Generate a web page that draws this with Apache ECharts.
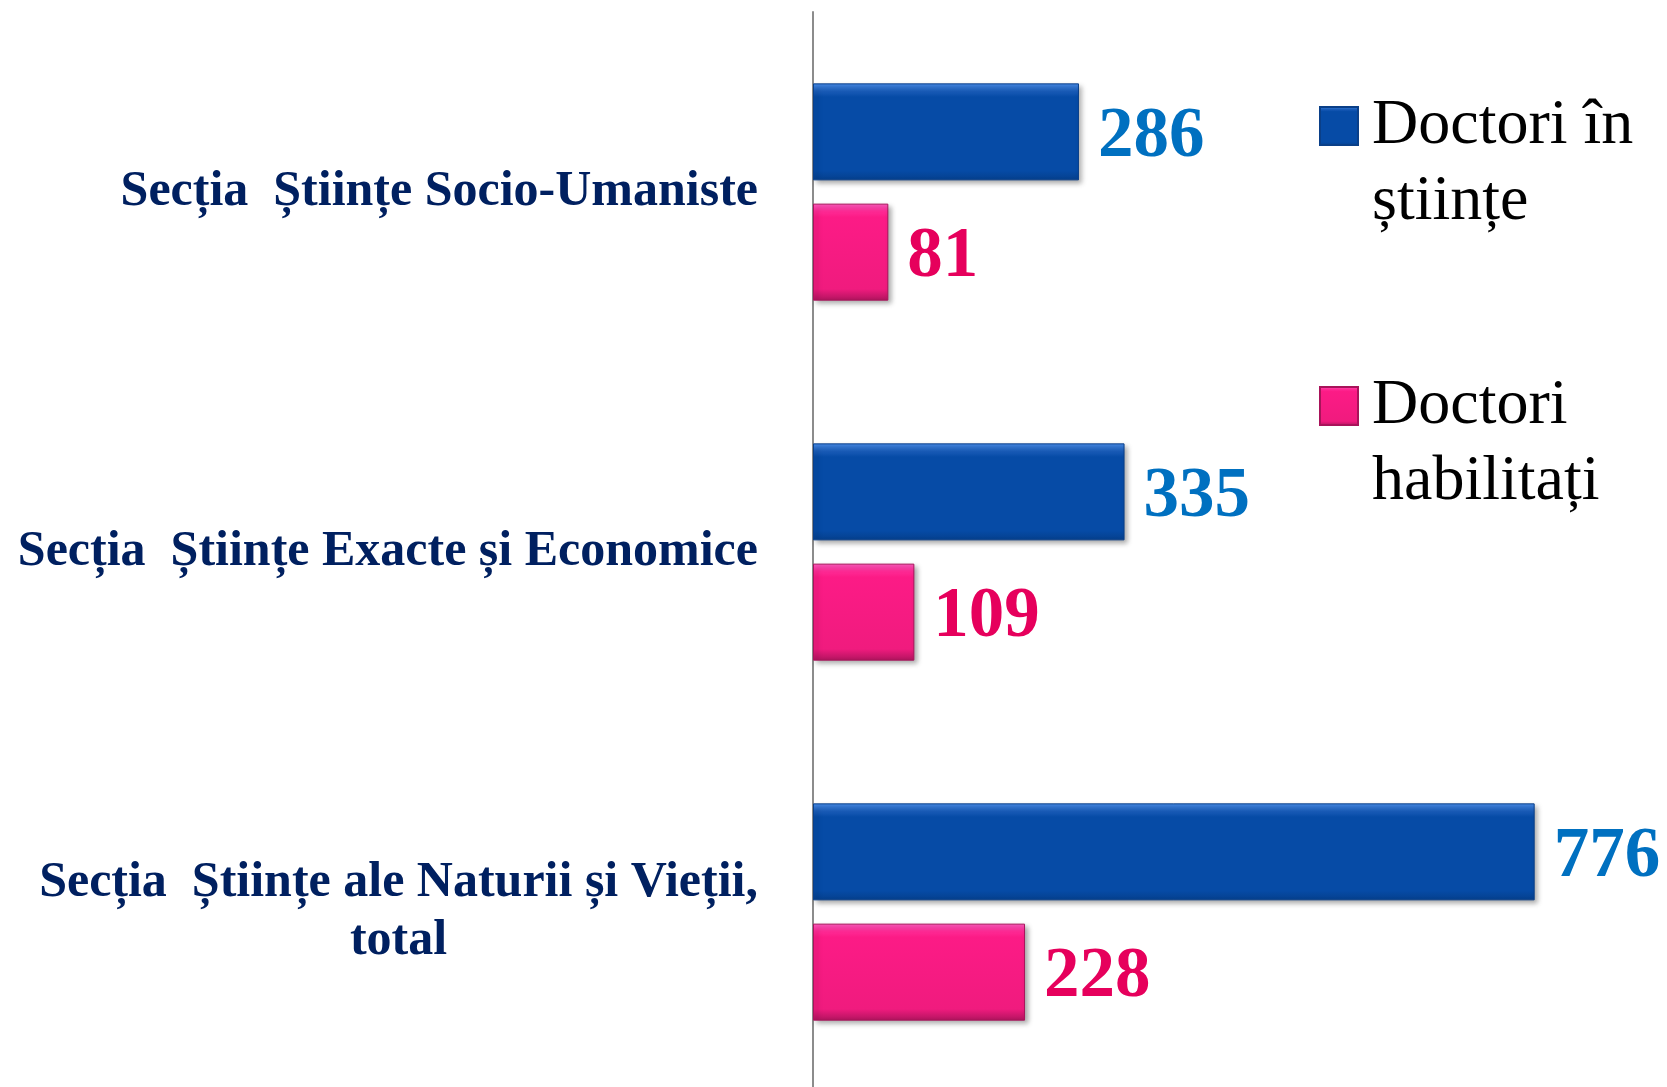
<!DOCTYPE html>
<html>
<head>
<meta charset="utf-8">
<script src="https://cdn.jsdelivr.net/npm/echarts@6/dist/echarts.min.js"></script>
<style>
  html, body { margin: 0; padding: 0; background: #fff; overflow: hidden; }
  #chart { width: 1667px; height: 1100px; }
</style>
</head>
<body>
<div id="chart"></div>
<script>
var categories = [
  'Secția  Științe Socio-Umaniste',
  'Secția  Științe Exacte și Economice',
  'Secția  Științe ale Naturii și Vieții,\ntotal'
];
var seriesNames = ['Doctori în științe', 'Doctori habilitați'];
var legendLines = {
  'Doctori în științe': 'Doctori în\nștiințe',
  'Doctori habilitați': 'Doctori\nhabilitați'
};
var doctoriStiinte = [286, 335, 776];
var doctoriHabilitati = [81, 109, 228];

var chartDom = document.getElementById('chart');
var myChart = echarts.init(chartDom);
var option;

var blueFill = new echarts.graphic.LinearGradient(0, 0, 0, 1, [
  { offset: 0, color: '#4a90ee' },
  { offset: 0.08, color: '#1a5cb8' },
  { offset: 0.14, color: '#064ba6' },
  { offset: 0.9, color: '#064ba6' },
  { offset: 1, color: '#053f8c' }
]);
var pinkFill = new echarts.graphic.LinearGradient(0, 0, 0, 1, [
  { offset: 0, color: '#ff5cc0' },
  { offset: 0.08, color: '#ff2a95' },
  { offset: 0.14, color: '#fc1b86' },
  { offset: 0.88, color: '#f01b7e' },
  { offset: 1, color: '#b0145e' }
]);

var catFont = {
  fontFamily: 'Liberation Serif',
  fontWeight: 'bold',
  fontSize: 50,
  lineHeight: 58,
  color: '#002060'
};

option = {
  backgroundColor: '#ffffff',
  animation: false,
  grid: {
    left: 813,
    top: 12,
    width: 837,
    height: 1080
  },
  legend: {
    orient: 'vertical',
    left: 1319,
    top: 12,
    padding: 0,
    itemGap: 52,
    itemWidth: 38,
    itemHeight: 38,
    icon: 'rect',
    data: seriesNames,
    formatter: function (name) {
      return ' \n' + legendLines[name];
    },
    textStyle: {
      fontFamily: 'Liberation Serif',
      fontSize: 64,
      lineHeight: 76,
      color: '#000000',
      padding: [0, 0, 0, 9]
    }
  },
  xAxis: {
    type: 'value',
    min: 0,
    max: 900,
    show: false
  },
  yAxis: {
    type: 'category',
    inverse: true,
    data: categories,
    axisLine: { show: true, lineStyle: { color: '#8c8c8c', width: 2 } },
    axisTick: { show: false },
    axisLabel: Object.assign({
      margin: 55,
      formatter: function (value) {
        var parts = value.split('\n');
        if (parts.length === 1) return value;
        return '{a|' + parts[0] + '}\n{c|' + parts[1] + '}';
      },
      rich: {
        a: Object.assign({ align: 'right' }, catFont),
        c: Object.assign({ align: 'center' }, catFont)
      }
    }, catFont)
  },
  series: [
    {
      name: seriesNames[0],
      type: 'bar',
      data: doctoriStiinte,
      barWidth: 97,
      barGap: '24%',
      itemStyle: {
        color: blueFill,
        borderColor: '#0a3f88',
        borderWidth: 1,
        shadowColor: 'rgba(0,0,0,0.35)',
        shadowBlur: 5,
        shadowOffsetX: 3,
        shadowOffsetY: 3
      },
      label: {
        show: true,
        position: 'right',
        distance: 19,
        offset: [0, 6],
        fontFamily: 'Liberation Serif',
        fontWeight: 'bold',
        fontSize: 71,
        color: '#0070c0'
      }
    },
    {
      name: seriesNames[1],
      type: 'bar',
      data: doctoriHabilitati,
      barWidth: 97,
      itemStyle: {
        color: pinkFill,
        borderColor: '#a8135a',
        borderWidth: 1,
        shadowColor: 'rgba(0,0,0,0.35)',
        shadowBlur: 5,
        shadowOffsetX: 3,
        shadowOffsetY: 3
      },
      label: {
        show: true,
        position: 'right',
        distance: 19,
        offset: [0, 6],
        fontFamily: 'Liberation Serif',
        fontWeight: 'bold',
        fontSize: 71,
        color: '#e6005c'
      }
    }
  ]
};

option && myChart.setOption(option);
</script>
</body>
</html>
